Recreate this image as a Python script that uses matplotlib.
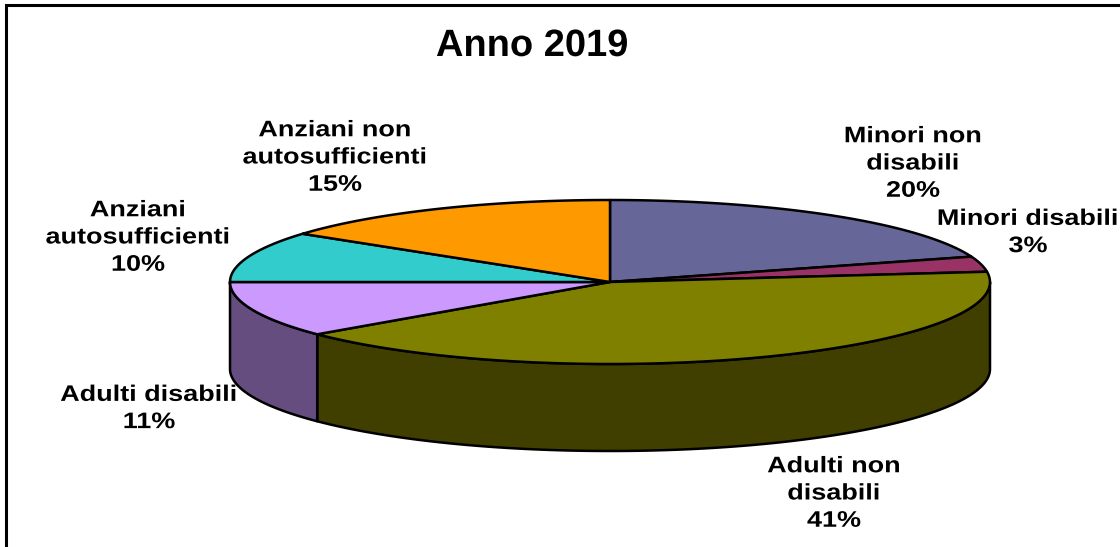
import numpy as np
import matplotlib
matplotlib.use('Agg')
import matplotlib.pyplot as plt
from matplotlib.patches import Polygon
from matplotlib.patheffects import AbstractPathEffect
from matplotlib.transforms import Affine2D

plt.rcParams['font.family'] = ['Liberation Sans', 'DejaVu Sans']

# Dati
labels = ['Minori non\ndisabili', 'Minori disabili', 'Adulti non\ndisabili',
          'Adulti disabili', 'Anziani\nautosufficienti', 'Anziani non\nautosufficienti']
values = [20, 3, 41, 11, 10, 15]
top_colors = ['#666699', '#993366', '#808000', '#CC99FF', '#33CCCC', '#FF9900']
side_colors = ['#333350', '#4D1A33', '#403F00', '#664D80', '#1A6666', '#804D00']

# Posizione delle etichette in pixel
label_pos = [(913, 164), (1028, 233), (834, 494), (149, 409), (138, 238), (335, 158)]

# Geometria della torta
cx, cy = 610, 282
rx, ry = 380, 82
depth = 87

fig = plt.figure(figsize=(11.2, 5.47), dpi=100)
ax = fig.add_axes([0, 0, 1, 1])
ax.set_xlim(0, 1120)
ax.set_ylim(547, 0)
ax.axis('off')


class Stretch(AbstractPathEffect):
    # allarga il testo in orizzontale attorno a x0 (le etichette originali sono spaziate)
    def __init__(self, x0, k):
        super().__init__()
        self.x0 = x0
        self.k = k

    def draw_path(self, renderer, gc, tpath, affine, rgbFace=None):
        t = affine + Affine2D().translate(-self.x0, 0).scale(self.k, 1).translate(self.x0, 0)
        renderer.draw_path(gc, tpath, t, rgbFace)


def rim(a0, a1, dy=0):
    # punti sul bordo, angolo in senso orario partendo dall'alto
    t = np.radians(np.linspace(a0, a1, 120))
    return np.column_stack((cx + rx * np.sin(t), cy + dy - ry * np.cos(t)))


# Cornice (solo sinistra e sopra)
ax.plot([6, 6, 1120], [547, 5, 5], color='black', lw=2.2, solid_joinstyle='miter')

edges = np.concatenate(([0], np.cumsum(values))) * 360 / sum(values)

# Fianchi: solo la parte visibile tra 90 e 270 gradi
for i in range(len(values)):
    a0, a1 = max(edges[i], 90), min(edges[i + 1], 270)
    if a1 <= a0:
        continue
    pts = np.vstack((rim(a0, a1), rim(a0, a1, depth)[::-1]))
    ax.add_patch(Polygon(pts, closed=True, fc=side_colors[i], ec='black', lw=1.8, joinstyle='round'))

# Fette superiori
for i in range(len(values)):
    pts = np.vstack(([cx, cy], rim(edges[i], edges[i + 1])))
    ax.add_patch(Polygon(pts, closed=True, fc=top_colors[i], ec='black', lw=1.8, joinstyle='round'))

# Etichette
for lab, val, (x, y) in zip(labels, values, label_pos):
    ax.text(x, y, f'{lab}\n{val}%', ha='center', va='center', ma='center',
            fontsize=16.2, fontweight='bold', linespacing=1.39, color='black',
            path_effects=[Stretch(x, 1.2)])

ax.text(532, 46, 'Anno 2019', ha='center', va='center', fontsize=27.4, fontweight='bold',
        path_effects=[Stretch(532, 1.0)])

fig.savefig('out.png', dpi=100)
